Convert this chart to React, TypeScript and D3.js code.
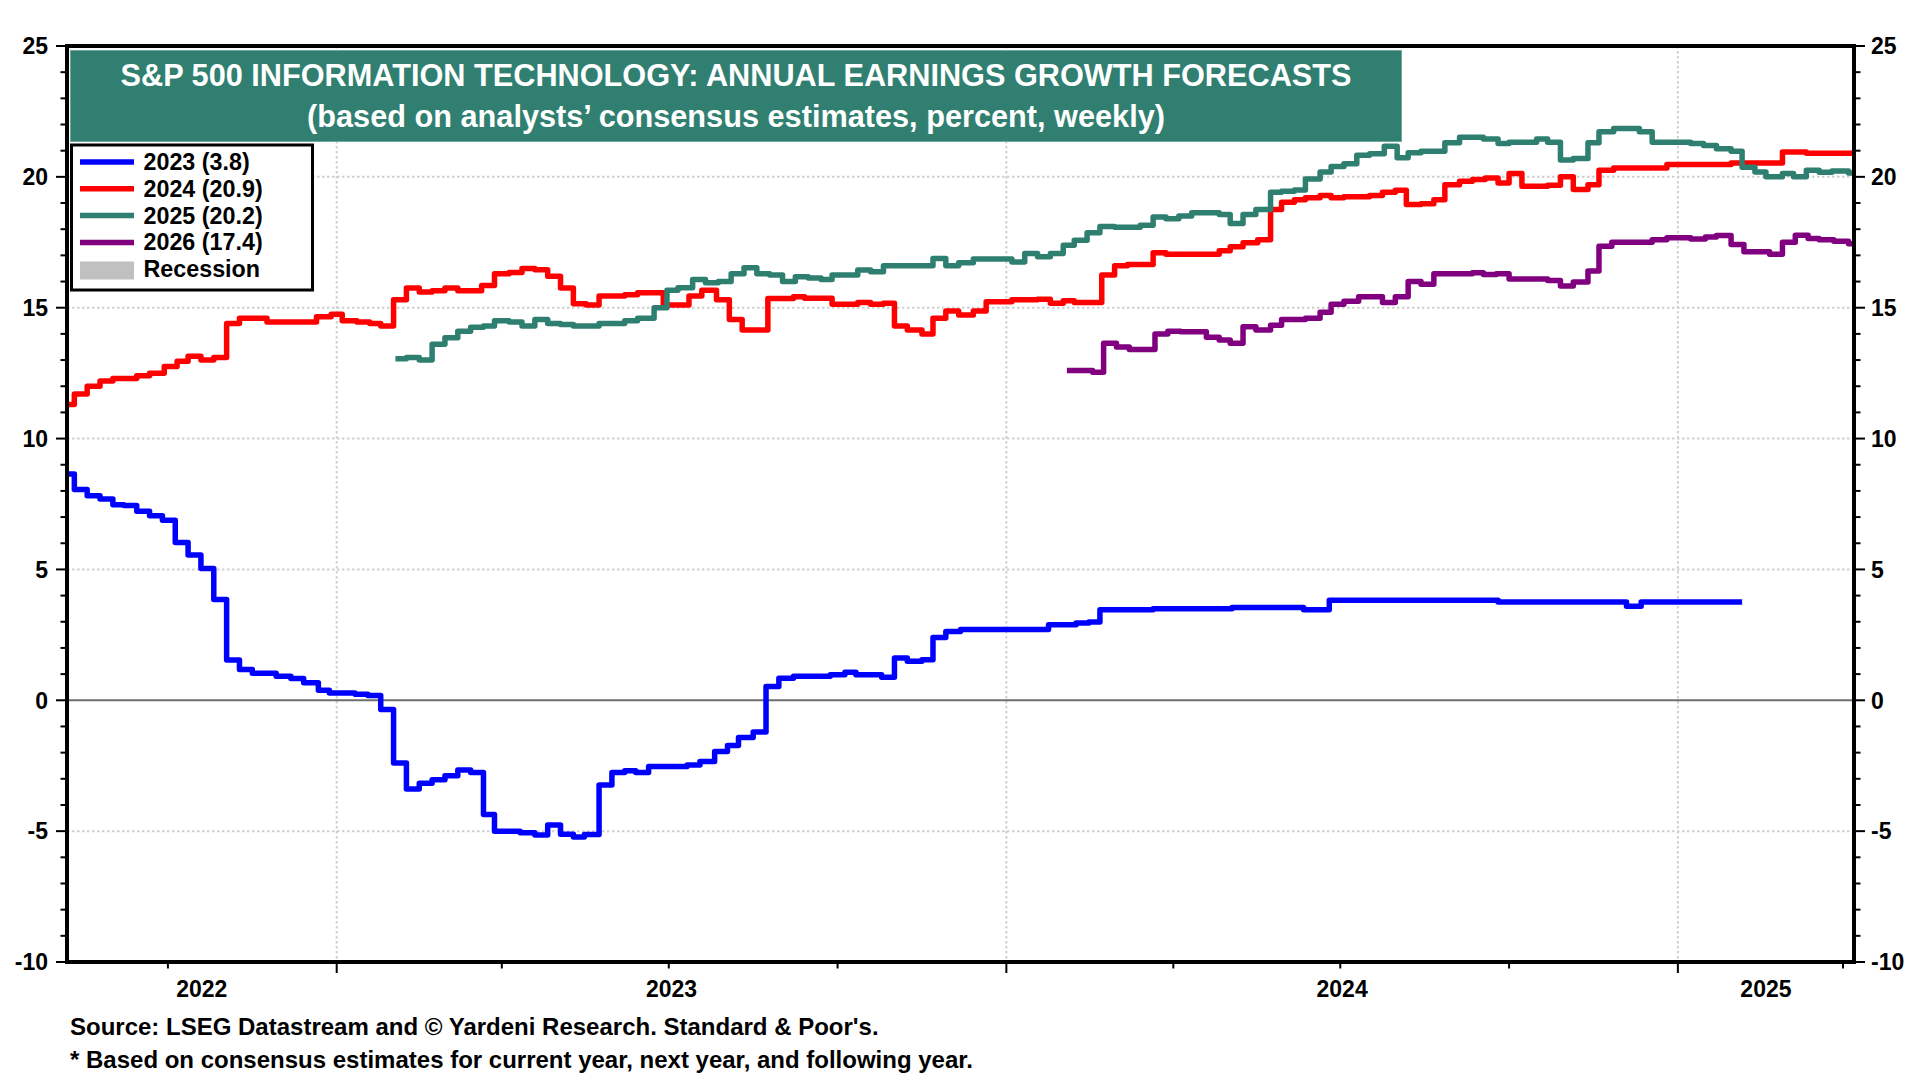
import React, { useEffect, useRef } from "react";
import * as d3 from "d3";

type Pt = [string, number];

// weekly consensus readings, only the weeks where the value moved
const est2023: Pt[] = [
  ["2022-08-07", 8.65], ["2022-08-11", 8.05], ["2022-08-18", 7.82], ["2022-08-25", 7.69],
  ["2022-09-01", 7.47], ["2022-09-07", 7.44], ["2022-09-14", 7.22], ["2022-09-21", 7.05],
  ["2022-09-28", 6.88], ["2022-10-05", 6.03], ["2022-10-12", 5.55], ["2022-10-19", 5.04],
  ["2022-10-26", 3.85], ["2022-11-02", 1.54], ["2022-11-09", 1.18], ["2022-11-16", 1.03],
  ["2022-11-29", 0.92], ["2022-12-07", 0.83], ["2022-12-14", 0.67], ["2022-12-22", 0.38],
  ["2022-12-28", 0.28], ["2023-01-11", 0.23], ["2023-01-18", 0.18], ["2023-01-25", -0.35],
  ["2023-02-01", -2.4], ["2023-02-08", -3.39], ["2023-02-15", -3.17], ["2023-02-22", -3.04],
  ["2023-03-01", -2.88], ["2023-03-08", -2.66], ["2023-03-15", -2.76], ["2023-03-22", -4.36],
  ["2023-03-28", -5.0], ["2023-04-11", -5.06], ["2023-04-19", -5.15], ["2023-04-26", -4.77],
  ["2023-05-03", -5.12], ["2023-05-10", -5.22], ["2023-05-16", -5.13], ["2023-05-24", -3.24],
  ["2023-05-31", -2.76], ["2023-06-07", -2.69], ["2023-06-13", -2.76], ["2023-06-20", -2.53],
  ["2023-07-11", -2.47], ["2023-07-18", -2.34], ["2023-07-26", -1.96], ["2023-08-02", -1.73],
  ["2023-08-08", -1.42], ["2023-08-16", -1.21], ["2023-08-23", 0.53], ["2023-08-30", 0.84],
  ["2023-09-07", 0.92], ["2023-09-27", 0.98], ["2023-10-05", 1.07], ["2023-10-11", 0.98],
  ["2023-10-25", 0.88], ["2023-11-01", 1.62], ["2023-11-08", 1.49], ["2023-11-16", 1.55],
  ["2023-11-22", 2.4], ["2023-11-29", 2.63], ["2023-12-07", 2.7], ["2024-01-24", 2.89],
  ["2024-02-08", 2.95], ["2024-02-15", 2.99], ["2024-02-21", 3.46], ["2024-03-21", 3.5],
  ["2024-05-03", 3.55], ["2024-06-11", 3.46], ["2024-06-25", 3.82], ["2024-09-25", 3.76],
  ["2024-12-04", 3.59], ["2024-12-12", 3.76], ["2025-02-05", 3.76],
];

const est2024: Pt[] = [
  ["2022-08-07", 11.3], ["2022-08-11", 11.7], ["2022-08-18", 12.0], ["2022-08-25", 12.2],
  ["2022-09-01", 12.3], ["2022-09-14", 12.4], ["2022-09-21", 12.5], ["2022-09-29", 12.75],
  ["2022-10-06", 12.95], ["2022-10-12", 13.15], ["2022-10-19", 13.0], ["2022-10-26", 13.1],
  ["2022-11-02", 14.4], ["2022-11-09", 14.6], ["2022-11-24", 14.45], ["2022-12-21", 14.65],
  ["2022-12-29", 14.75], ["2023-01-04", 14.5], ["2023-01-12", 14.45], ["2023-01-19", 14.4],
  ["2023-01-25", 14.3], ["2023-02-01", 15.3], ["2023-02-08", 15.75], ["2023-02-15", 15.6],
  ["2023-02-22", 15.65], ["2023-03-01", 15.75], ["2023-03-08", 15.65], ["2023-03-21", 15.85],
  ["2023-03-28", 16.3], ["2023-04-05", 16.35], ["2023-04-12", 16.5], ["2023-04-19", 16.45],
  ["2023-04-26", 16.2], ["2023-05-03", 15.75], ["2023-05-10", 15.15], ["2023-05-17", 15.1],
  ["2023-05-24", 15.45], ["2023-06-07", 15.5], ["2023-06-14", 15.57], ["2023-06-28", 15.1],
  ["2023-07-12", 15.45], ["2023-07-19", 15.67], ["2023-07-27", 15.3], ["2023-08-03", 14.55],
  ["2023-08-10", 14.15], ["2023-08-24", 15.35], ["2023-09-07", 15.42], ["2023-09-13", 15.36],
  ["2023-09-28", 15.13], ["2023-10-12", 15.2], ["2023-10-19", 15.13], ["2023-10-26", 15.17],
  ["2023-11-01", 14.3], ["2023-11-08", 14.15], ["2023-11-16", 14.0], ["2023-11-22", 14.6],
  ["2023-11-29", 14.87], ["2023-12-06", 14.72], ["2023-12-14", 14.87], ["2023-12-21", 15.23],
  ["2024-01-04", 15.3], ["2024-01-18", 15.32], ["2024-01-25", 15.17], ["2024-02-01", 15.27],
  ["2024-02-07", 15.2], ["2024-02-22", 16.25], ["2024-02-29", 16.6], ["2024-03-07", 16.65],
  ["2024-03-21", 17.1], ["2024-03-28", 17.04], ["2024-04-26", 17.18], ["2024-05-02", 17.33],
  ["2024-05-09", 17.48], ["2024-05-17", 17.6], ["2024-05-24", 18.75], ["2024-05-30", 19.03],
  ["2024-06-06", 19.13], ["2024-06-12", 19.2], ["2024-06-20", 19.29], ["2024-06-26", 19.2],
  ["2024-07-03", 19.24], ["2024-07-17", 19.29], ["2024-07-24", 19.41], ["2024-07-31", 19.49],
  ["2024-08-06", 18.94], ["2024-08-14", 18.97], ["2024-08-21", 19.13], ["2024-08-27", 19.7],
  ["2024-09-04", 19.83], ["2024-09-11", 19.9], ["2024-09-18", 19.96], ["2024-09-25", 19.77],
  ["2024-10-01", 20.13], ["2024-10-08", 19.64], ["2024-10-22", 19.68], ["2024-10-29", 20.0],
  ["2024-11-05", 19.52], ["2024-11-13", 19.7], ["2024-11-19", 20.25], ["2024-11-27", 20.34],
  ["2024-12-26", 20.47], ["2025-01-30", 20.53], ["2025-02-27", 20.95], ["2025-03-12", 20.9],
  ["2025-04-07", 20.9],
];

const est2025: Pt[] = [
  ["2023-02-02", 13.05], ["2023-02-08", 13.1], ["2023-02-15", 13.0], ["2023-02-22", 13.6],
  ["2023-03-01", 13.85], ["2023-03-08", 14.1], ["2023-03-15", 14.25], ["2023-03-22", 14.3],
  ["2023-03-28", 14.5], ["2023-04-05", 14.45], ["2023-04-12", 14.3], ["2023-04-19", 14.55],
  ["2023-04-26", 14.4], ["2023-05-03", 14.36], ["2023-05-10", 14.3], ["2023-05-24", 14.4],
  ["2023-06-07", 14.5], ["2023-06-14", 14.6], ["2023-06-23", 15.0], ["2023-06-30", 15.67],
  ["2023-07-06", 15.76], ["2023-07-14", 16.08], ["2023-07-21", 15.95], ["2023-07-28", 16.0],
  ["2023-08-04", 16.3], ["2023-08-11", 16.53], ["2023-08-18", 16.3], ["2023-08-25", 16.25],
  ["2023-09-01", 16.0], ["2023-09-08", 16.18], ["2023-09-15", 16.14], ["2023-09-22", 16.08],
  ["2023-09-28", 16.25], ["2023-10-12", 16.44], ["2023-10-19", 16.37], ["2023-10-26", 16.6],
  ["2023-11-22", 16.88], ["2023-11-29", 16.6], ["2023-12-06", 16.72], ["2023-12-14", 16.86],
  ["2024-01-04", 16.75], ["2024-01-11", 17.07], ["2024-01-18", 16.95], ["2024-01-25", 17.07],
  ["2024-02-01", 17.39], ["2024-02-07", 17.58], ["2024-02-14", 17.86], ["2024-02-21", 18.1],
  ["2024-02-29", 18.07], ["2024-03-14", 18.15], ["2024-03-21", 18.47], ["2024-03-28", 18.4],
  ["2024-04-04", 18.5], ["2024-04-11", 18.63], ["2024-04-26", 18.56], ["2024-05-02", 18.22],
  ["2024-05-09", 18.56], ["2024-05-16", 18.75], ["2024-05-24", 19.41], ["2024-05-30", 19.45],
  ["2024-06-06", 19.5], ["2024-06-12", 19.92], ["2024-06-20", 20.19], ["2024-06-26", 20.4],
  ["2024-07-03", 20.5], ["2024-07-10", 20.83], ["2024-07-17", 20.88], ["2024-07-25", 21.17],
  ["2024-08-01", 20.73], ["2024-08-07", 20.92], ["2024-08-14", 20.98], ["2024-08-27", 21.3],
  ["2024-09-04", 21.51], ["2024-09-17", 21.45], ["2024-09-25", 21.27], ["2024-10-01", 21.32],
  ["2024-10-16", 21.45], ["2024-10-22", 21.32], ["2024-10-29", 20.64], ["2024-11-05", 20.7],
  ["2024-11-13", 21.3], ["2024-11-19", 21.72], ["2024-11-27", 21.85], ["2024-12-11", 21.72],
  ["2024-12-18", 21.32], ["2025-01-08", 21.27], ["2025-01-15", 21.2], ["2025-01-22", 21.07],
  ["2025-01-30", 20.98], ["2025-02-05", 20.37], ["2025-02-12", 20.19], ["2025-02-18", 20.0],
  ["2025-02-27", 20.13], ["2025-03-05", 20.0], ["2025-03-12", 20.25], ["2025-03-19", 20.18],
  ["2025-03-26", 20.22], ["2025-04-04", 20.15], ["2025-04-07", 20.15],
];

const est2026: Pt[] = [
  ["2024-02-03", 12.6], ["2024-02-17", 12.53], ["2024-02-23", 13.64], ["2024-03-01", 13.5],
  ["2024-03-08", 13.4], ["2024-03-22", 14.0], ["2024-03-29", 14.1], ["2024-04-05", 14.08],
  ["2024-04-19", 13.87], ["2024-04-26", 13.77], ["2024-05-02", 13.64], ["2024-05-09", 14.27],
  ["2024-05-16", 14.15], ["2024-05-24", 14.33], ["2024-05-30", 14.55], ["2024-06-12", 14.6],
  ["2024-06-20", 14.83], ["2024-06-26", 15.13], ["2024-07-03", 15.25], ["2024-07-11", 15.42],
  ["2024-07-24", 15.2], ["2024-07-31", 15.42], ["2024-08-07", 16.0], ["2024-08-14", 15.9],
  ["2024-08-21", 16.3], ["2024-09-11", 16.34], ["2024-09-17", 16.27], ["2024-09-24", 16.3],
  ["2024-10-01", 16.1], ["2024-10-22", 16.04], ["2024-10-29", 15.83], ["2024-11-05", 15.98],
  ["2024-11-13", 16.4], ["2024-11-19", 17.35], ["2024-11-26", 17.5], ["2024-12-18", 17.6],
  ["2024-12-26", 17.67], ["2025-01-08", 17.63], ["2025-01-16", 17.7], ["2025-01-22", 17.76],
  ["2025-01-30", 17.42], ["2025-02-06", 17.14], ["2025-02-20", 17.04], ["2025-02-27", 17.5],
  ["2025-03-06", 17.77], ["2025-03-13", 17.64], ["2025-03-19", 17.6], ["2025-03-27", 17.54],
  ["2025-04-04", 17.44], ["2025-04-07", 17.44],
];

const legendLabels = ["2023 (3.8)", "2024 (20.9)", "2025 (20.2)", "2026 (17.4)"];
const colors = ["#0000ff", "#ff0000", "#2e7f70", "#800080"];
const yTickLabels = [25, 20, 15, 10, 5, 0, -5, -10];
const yearLabels = ["2022", "2023", "2024", "2025"];
const titleLines = [
  "S&P 500 INFORMATION TECHNOLOGY: ANNUAL EARNINGS GROWTH FORECASTS",
  "(based on analysts\u2019 consensus estimates, percent, weekly)",
];
const notes = [
  "Source: LSEG Datastream and \u00a9 Yardeni Research. Standard & Poor's.",
  "* Based on consensus estimates for current year, next year, and following year.",
];

const FONT = "'Liberation Sans', Arial, sans-serif";

const App = () => {
  const svgRef = useRef(null);
  const width = 1920;
  const height = 1080;
  const plot = { left: 67, right: 1854, top: 46, bottom: 962 };

  useEffect(() => {
    const svg = d3.select(svgRef.current);
    svg.selectAll("*").remove();

    const parse = d3.timeParse("%Y-%m-%d");
    const start = parse("2022-08-07")!;
    const end = parse("2025-04-07")!;

    const x = d3.scaleTime().domain([start, end]).range([plot.left, plot.right]);
    const y = d3.scaleLinear().domain([-10, 25]).range([plot.bottom, plot.top]);

    svg.append("rect").attr("width", width).attr("height", height).attr("fill", "#fff");

    // dotted grid
    const grid = svg.append("g").attr("stroke", "#cfcfcf").attr("stroke-width", 2).attr("stroke-dasharray", "2.5 2.5");
    grid
      .selectAll("line.h")
      .data(yTickLabels.filter((v) => v !== 25 && v !== -10 && v !== 0))
      .enter()
      .append("line")
      .attr("x1", plot.left)
      .attr("x2", plot.right)
      .attr("y1", (d) => y(d))
      .attr("y2", (d) => y(d));

    const yearStarts = d3.timeYear.range(start, end).filter((d) => d > start);
    grid
      .selectAll("line.v")
      .data(yearStarts)
      .enter()
      .append("line")
      .attr("x1", (d) => x(d))
      .attr("x2", (d) => x(d))
      .attr("y1", plot.top)
      .attr("y2", plot.bottom);

    // zero line
    svg
      .append("line")
      .attr("x1", plot.left)
      .attr("x2", plot.right)
      .attr("y1", y(0))
      .attr("y2", y(0))
      .attr("stroke", "#6e6e6e")
      .attr("stroke-width", 2);

    // series
    svg
      .append("clipPath")
      .attr("id", "plotclip")
      .append("rect")
      .attr("x", plot.left)
      .attr("y", plot.top)
      .attr("width", plot.right - plot.left)
      .attr("height", plot.bottom - plot.top);

    const line = d3
      .line<Pt>()
      .x((d) => x(parse(d[0])!))
      .y((d) => y(d[1]))
      .curve(d3.curveStepAfter);

    [est2023, est2024, est2025, est2026].forEach((s, i) => {
      svg
        .append("path")
        .attr("d", line(s))
        .attr("fill", "none")
        .attr("stroke", colors[i])
        .attr("stroke-width", 5.5)
        .attr("stroke-linejoin", "round")
        .attr("clip-path", "url(#plotclip)");
    });

    // title box
    svg
      .append("rect")
      .attr("x", 70.5)
      .attr("y", 50.5)
      .attr("width", 1331)
      .attr("height", 91)
      .attr("fill", "#307f71")
      .attr("stroke", "#6fa89d")
      .attr("stroke-width", 1);
    titleLines.forEach((t, i) => {
      svg
        .append("text")
        .attr("x", 736)
        .attr("y", 86 + i * 41)
        .attr("text-anchor", "middle")
        .attr("fill", "#fff")
        .attr("font-family", FONT)
        .attr("font-weight", "bold")
        .attr("font-size", 30.7)
        .text(t);
    });

    // legend
    const lg = svg.append("g");
    lg.append("rect")
      .attr("x", 71.5)
      .attr("y", 145)
      .attr("width", 241)
      .attr("height", 145)
      .attr("fill", "#fff")
      .attr("stroke", "#000")
      .attr("stroke-width", 3);
    legendLabels.forEach((lab, i) => {
      const by = 170 + i * 26.8;
      lg.append("line")
        .attr("x1", 80)
        .attr("x2", 134)
        .attr("y1", by - 8)
        .attr("y2", by - 8)
        .attr("stroke", colors[i])
        .attr("stroke-width", 5.5);
      lg.append("text")
        .attr("x", 143.5)
        .attr("y", by)
        .attr("font-family", FONT)
        .attr("font-weight", "bold")
        .attr("font-size", 23.3)
        .text(lab);
    });
    lg.append("rect").attr("x", 80).attr("y", 261.5).attr("width", 54).attr("height", 18).attr("fill", "#c0c0c0");
    lg.append("text")
      .attr("x", 143.5)
      .attr("y", 170 + 4 * 26.8)
      .attr("font-family", FONT)
      .attr("font-weight", "bold")
      .attr("font-size", 23.3)
      .text("Recession");

    // frame
    svg
      .append("rect")
      .attr("x", plot.left)
      .attr("y", plot.top)
      .attr("width", plot.right - plot.left)
      .attr("height", plot.bottom - plot.top)
      .attr("fill", "none")
      .attr("stroke", "#000")
      .attr("stroke-width", 4);

    // y ticks both sides
    const ticks = svg.append("g").attr("stroke", "#000").attr("stroke-width", 2);
    d3.range(-10, 26).forEach((v) => {
      const len = v % 5 === 0 ? 9 : 4.5;
      ticks.append("line").attr("x1", plot.left - 2).attr("x2", plot.left - 2 - len).attr("y1", y(v)).attr("y2", y(v));
      ticks.append("line").attr("x1", plot.right + 2).attr("x2", plot.right + 2 + len).attr("y1", y(v)).attr("y2", y(v));
    });
    d3.timeMonth
      .every(3)!
      .range(start, end)
      .forEach((d) => {
        const len = d.getMonth() === 0 ? 9 : 4.5;
        ticks.append("line").attr("x1", x(d)).attr("x2", x(d)).attr("y1", plot.bottom + 2).attr("y2", plot.bottom + 2 + len);
      });

    yTickLabels.forEach((v) => {
      svg
        .append("text")
        .attr("x", 48)
        .attr("y", y(v))
        .attr("dy", "0.36em")
        .attr("text-anchor", "end")
        .attr("font-family", FONT)
        .attr("font-weight", "bold")
        .attr("font-size", 23)
        .text(v);
      svg
        .append("text")
        .attr("x", 1871)
        .attr("y", y(v))
        .attr("dy", "0.36em")
        .attr("font-family", FONT)
        .attr("font-weight", "bold")
        .attr("font-size", 23)
        .text(v);
    });

    // year labels centred in each visible year
    const bounds = [start, ...yearStarts, end];
    yearLabels.forEach((lab, i) => {
      svg
        .append("text")
        .attr("x", (x(bounds[i]) + x(bounds[i + 1])) / 2)
        .attr("y", 997)
        .attr("text-anchor", "middle")
        .attr("font-family", FONT)
        .attr("font-weight", "bold")
        .attr("font-size", 23)
        .text(lab);
    });

    notes.forEach((n, i) => {
      svg
        .append("text")
        .attr("x", 70)
        .attr("y", 1035 + i * 33)
        .attr("font-family", FONT)
        .attr("font-weight", "bold")
        .attr("font-size", 24)
        .text(n);
    });
  }, []);

  return (
    <svg
      ref={svgRef}
      width={width}
      height={height}
      style={{ position: "absolute", left: 0, top: 0, display: "block" }}
    />
  );
};

export default App;
